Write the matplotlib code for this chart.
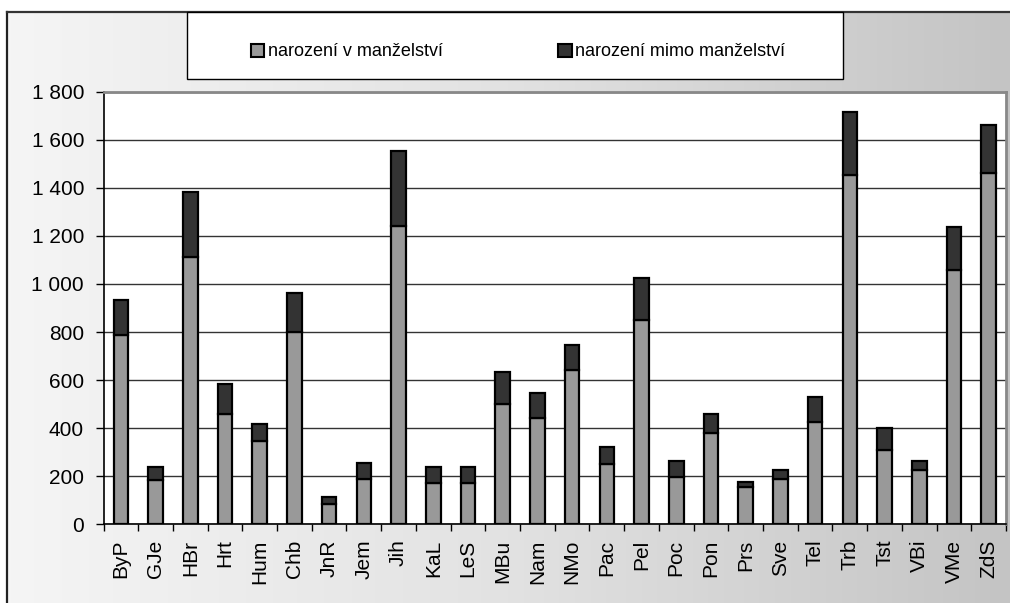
#!/usr/bin/env python3
# skladany sloupcovy graf: narozeni v manzelstvi / mimo manzelstvi podle obci
import numpy as np
import matplotlib
matplotlib.use('Agg')
import matplotlib.pyplot as plt
from matplotlib.patches import Rectangle
from matplotlib.ticker import FuncFormatter, MultipleLocator

plt.rcParams['font.family'] = ['Liberation Sans', 'DejaVu Sans']

obce = ['ByP', 'GJe', 'HBr', 'Hrt', 'Hum', 'Chb', 'JnR', 'Jem', 'Jih', 'KaL',
        'LeS', 'MBu', 'Nam', 'NMo', 'Pac', 'Pel', 'Poc', 'Pon', 'Prs', 'Sve',
        'Tel', 'Trb', 'Tst', 'VBi', 'VMe', 'ZdS']
v_manzelstvi = [787, 184, 1112, 461, 348, 801, 84, 187, 1240, 170,
                170, 500, 441, 644, 249, 849, 195, 378, 154, 188,
                424, 1452, 309, 226, 1060, 1462]
celkem = [932, 237, 1381, 583, 417, 963, 115, 256, 1552, 240,
          240, 634, 545, 748, 320, 1025, 264, 461, 177, 226,
          530, 1715, 402, 263, 1237, 1663]
mimo_manzelstvi = [c - v for c, v in zip(celkem, v_manzelstvi)]

W, H = 1010, 603
fig = plt.figure(figsize=(W / 100, H / 100), dpi=100)
fig.patch.set_facecolor('white')

# pozadi s prechodem
bg = fig.add_axes([7 / W, 0, 1 - 7 / W, 1 - 12 / H], zorder=-10)
grad = np.linspace(0, 1, 256).reshape(1, -1)
bg.imshow(grad, aspect='auto', cmap=matplotlib.colors.LinearSegmentedColormap.from_list(
    'g', ['#f5f5f5', '#e2e2e2', '#c4c4c4']), extent=[0, 1, 0, 1])
bg.set_xlim(0, 1)
bg.set_ylim(0, 1)
bg.axis('off')
fig.add_artist(plt.Line2D([7 / W, 7 / W], [0, 1 - 12 / H], color='#222222', lw=1.6))
fig.add_artist(plt.Line2D([7 / W, 1], [1 - 12 / H, 1 - 12 / H], color='#333333', lw=1.6))

ax = fig.add_axes([103.5 / W, 1 - 524.3 / H, (1006 - 103.5) / W, (524.3 - 91.7) / H])
ax.set_facecolor('white')
x = np.arange(len(obce))
ax.bar(x, v_manzelstvi, width=0.42, color='#999999', edgecolor='black', linewidth=1.6, zorder=3)
ax.bar(x, mimo_manzelstvi, bottom=v_manzelstvi, width=0.42, color='#333333',
       edgecolor='black', linewidth=1.6, zorder=3)

ax.set_xlim(-0.5, len(obce) - 0.5)
ax.set_ylim(0, 1800)
ax.yaxis.set_major_locator(MultipleLocator(200))
ax.yaxis.set_major_formatter(FuncFormatter(lambda v, p: f'{int(v):,}'.replace(',', ' ')))
ax.grid(axis='y', color='#333333', linewidth=1, zorder=1)
ax.set_axisbelow(True)

ax.set_xticks(x)
ax.set_xticklabels(obce, rotation=90)
ax.set_xticks(np.arange(-0.5, len(obce)), minor=True)
ax.tick_params(axis='x', which='major', length=0, pad=11, labelsize=15)
ax.tick_params(axis='x', which='minor', length=5, width=1, direction='out')
ax.tick_params(axis='y', length=6, width=1, pad=8, labelsize=15)

for s in ['left', 'bottom']:
    ax.spines[s].set_color('black')
    ax.spines[s].set_linewidth(1.2)
for s in ['top', 'right']:
    ax.spines[s].set_color('#888888')
    ax.spines[s].set_linewidth(2)

# legenda
fig.add_artist(Rectangle((187 / W, 1 - 79 / H), (843 - 187) / W, (79 - 12) / H,
                         transform=fig.transFigure, facecolor='white', edgecolor='black',
                         linewidth=1, zorder=5))
h1 = Rectangle((0, 0), 1, 1, facecolor='#999999', edgecolor='black', linewidth=1.5)
h2 = Rectangle((0, 0), 1, 1, facecolor='#333333', edgecolor='black', linewidth=1.5)
leg = fig.legend([h1, h2], ['narození v manželství', 'narození mimo manželství'],
                 loc='center', bbox_to_anchor=(518 / W, 1 - 52 / H), ncol=2, frameon=False,
                 fontsize=13, handlelength=0.75, handleheight=0.75, handletextpad=0.2,
                 columnspacing=6.4)
leg.set_zorder(6)

fig.savefig('out.png', dpi=100)
